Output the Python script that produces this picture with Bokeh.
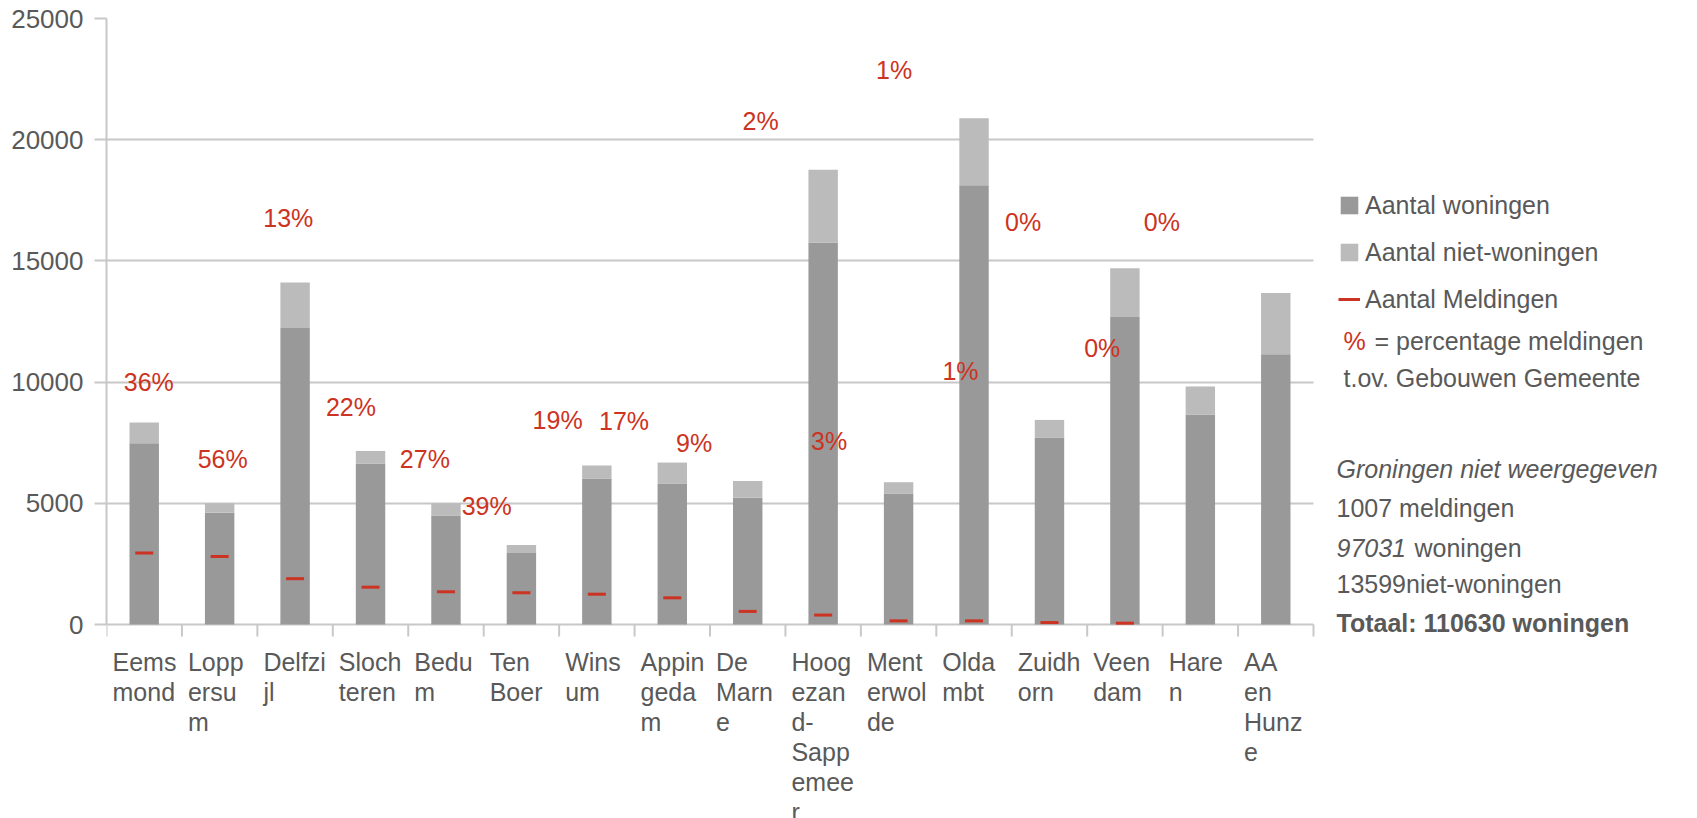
import numpy as np
from bokeh.plotting import figure
from bokeh.models import (ColumnDataSource, Range1d, FixedTicker, LabelSet, Label,
                          Legend, LegendItem, Grid)
from bokeh.core.properties import value
from bokeh.embed import file_html
from bokeh.resources import INLINE

# ---------------- data ----------------
gemeenten = ["Eemsmond", "Loppersum", "Delfzijl", "Slochteren", "Bedum", "Ten Boer",
             "Winsum", "Appingedam", "De Marne", "Hoogezand-Sappemeer", "Menterwolde",
             "Oldambt", "Zuidhorn", "Veendam", "Haren", "AA en Hunze"]
tick_labels = ["Eems\nmond", "Lopp\nersu\nm", "Delfzi\njl", "Sloch\nteren", "Bedu\nm",
               "Ten\nBoer", "Wins\num", "Appin\ngeda\nm", "De\nMarn\ne",
               "Hoog\nezan\nd-\nSapp\nemee\nr", "Ment\nerwol\nde", "Olda\nmbt",
               "Zuidh\norn", "Veen\ndam", "Hare\nn", "AA\nen\nHunz\ne"]
woningen = [7480, 4610, 12230, 6640, 4480, 2950, 6010, 5800, 5230, 15760, 5400,
            18120, 7710, 12690, 8650, 11150]
niet_woningen = [850, 390, 1880, 520, 520, 330, 550, 880, 690, 3000, 470,
                 2770, 730, 2010, 1170, 2530]
meldingen = [2950, 2810, 1890, 1540, 1350, 1310, 1250, 1100, 540, 390, 150,
             150, 80, 55, 0, 0]
percentages = ["36%", "56%", "13%", "22%", "27%", "39%", "19%", "17%", "9%", "2%",
               "3%", "1%", "1%", "0%", "0%", "0%"]
y_ticks = [0, 5000, 10000, 15000, 20000, 25000]

# placement of the percentage labels (x in category units, y in data units)
pct_label_x = [0.56, 1.54, 2.41, 3.24, 4.22, 5.04, 5.98, 6.86, 7.79, 8.67, 9.58,
               10.44, 11.32, 12.15, 13.20, 13.99]
pct_label_y = [9990, 6840, 16760, 8975, 6840, 4900, 8450, 8380, 7490, 20780, 7550,
               22880, 10450, 16600, 11410, 16600]

# ---------------- style / geometry ----------------
FONT = "Liberation Sans"
GRAY_TXT = "#595959"
RED = "#cc3322"
DARK = "#999999"
LIGHT = "#bbbbbb"
GRID = "#c8c8c8"

W, H = 1680, 818
FRAME_LEFT, FRAME_TOP = 106, 18      # pixel position of plot area
Y0_PX = 624                          # pixel row of value 0
AREA_RIGHT = 1313                    # right end of the bar area
NCAT = len(gemeenten)
YMAX = 25000

PX_PER_X = (AREA_RIGHT - FRAME_LEFT) / NCAT
PX_PER_Y = (Y0_PX - FRAME_TOP) / YMAX
x_end = (W - FRAME_LEFT) / PX_PER_X
y_start = -(H - Y0_PX) / PX_PER_Y

p = figure(width=W, height=H, output_backend="svg", toolbar_location=None,
           x_range=Range1d(0, x_end), y_range=Range1d(y_start, YMAX),
           x_axis_location=None,
           min_border_left=FRAME_LEFT, min_border_right=0,
           min_border_top=FRAME_TOP, min_border_bottom=0,
           background_fill_color="white", border_fill_color="white")
p.outline_line_color = None

centers = np.arange(NCAT) + 0.5
dash_half = 9 / PX_PER_X             # red marks are 18 px wide
meld = np.array([m if m > 0 else np.nan for m in meldingen], dtype=float)
src = ColumnDataSource(dict(
    x=centers, gemeente=gemeenten, woningen=woningen, niet_woningen=niet_woningen,
    meld=meld, x0=centers - dash_half, x1=centers + dash_half,
))

# grid (also acts as the category axis line at 0)
p.xgrid.grid_line_color = None
p.ygrid.ticker = FixedTicker(ticks=y_ticks)
if "cross_bounds" in Grid.properties():
    p.ygrid.cross_bounds = (0, NCAT)
    p.ygrid.grid_line_color = GRID
    p.ygrid.grid_line_width = 2
else:
    p.ygrid.grid_line_color = None
    p.segment(x0=[0] * len(y_ticks), x1=[NCAT] * len(y_ticks), y0=y_ticks, y1=y_ticks,
              line_color=GRID, line_width=2)

# category boundary tick marks below the axis
bounds = np.arange(NCAT + 1)
tick_len = 12 / PX_PER_Y
p.segment(x0=bounds, x1=bounds, y0=np.zeros(NCAT + 1), y1=np.full(NCAT + 1, -tick_len),
          line_color=GRID, line_width=2)

bars = p.vbar_stack(["woningen", "niet_woningen"], x="x", width=0.39, source=src,
                    color=[DARK, LIGHT], line_color=None)
dash = p.segment(x0="x0", x1="x1", y0="meld", y1="meld", source=src,
                 line_color=RED, line_width=3)

# percentage labels
psrc = ColumnDataSource(dict(x=pct_label_x, y=pct_label_y, t=percentages))
p.text(x="x", y="y", text="t", source=psrc, text_align="center",
       text_baseline="middle", text_font=value(FONT), text_font_size="25px",
       text_color=RED)

# category labels (left aligned, wrapped like the original)
csrc = ColumnDataSource(dict(x=np.arange(NCAT), y=[0] * NCAT, t=tick_labels))
p.add_layout(LabelSet(x="x", y="y", text="t", source=csrc, x_offset=6, y_offset=-23,
                      text_align="left", text_baseline="top",
                      text_font=value(FONT), text_font_size=value("25px"),
                      text_color=GRAY_TXT, text_line_height=1.075))

# y axis
p.yaxis.ticker = FixedTicker(ticks=y_ticks)
p.yaxis.bounds = (0, YMAX)
p.yaxis.major_tick_out = 12
p.yaxis.major_tick_in = 0
p.yaxis.minor_tick_line_color = None
p.yaxis.major_tick_line_color = GRID
p.yaxis.major_tick_line_width = 2
p.yaxis.axis_line_color = GRID
p.yaxis.axis_line_width = 2
p.yaxis.major_label_standoff = 11
p.yaxis.major_label_text_font = FONT
p.yaxis.major_label_text_font_size = "26px"
p.yaxis.major_label_text_color = GRAY_TXT

# legend (to the right of the bars)
legend = Legend(items=[
    LegendItem(label="Aantal woningen", renderers=[bars[0]]),
    LegendItem(label="Aantal niet-woningen", renderers=[bars[1]]),
    LegendItem(label="Aantal Meldingen", renderers=[dash]),
], location=(1338 - FRAME_LEFT, H - 314), orientation="vertical",
    glyph_width=22, glyph_height=22, label_height=30, label_standoff=5,
    spacing=17, padding=0, margin=0, border_line_color=None,
    background_fill_alpha=0, label_text_font=FONT, label_text_font_size="25px",
    label_text_color=GRAY_TXT)
p.add_layout(legend, "center")


def to_data(fx, fy):
    return (fx - FRAME_LEFT) / PX_PER_X, (Y0_PX - fy) / PX_PER_Y


def note(text, fx, fy, color=GRAY_TXT, style="normal"):
    x, y = to_data(fx, fy)
    p.add_layout(Label(x=x, y=y, text=text, text_font=FONT, text_font_size="25px",
                       text_color=color, text_font_style=style, text_align="left",
                       text_baseline="middle"))


note("%", 1343, 340, color=RED)
note("= percentage meldingen", 1374, 340)
note("t.ov. Gebouwen Gemeente", 1343, 377)
note("Groningen niet weergegeven", 1336, 468, style="italic")
note("1007 meldingen", 1336, 507)
note("97031", 1336, 547, style="italic")
note("woningen", 1414, 547)
note("13599niet-woningen", 1336, 583)
note("Totaal: 110630 woningen", 1336, 622, style="bold")

open("out.html", "w").write(file_html(p, INLINE))
